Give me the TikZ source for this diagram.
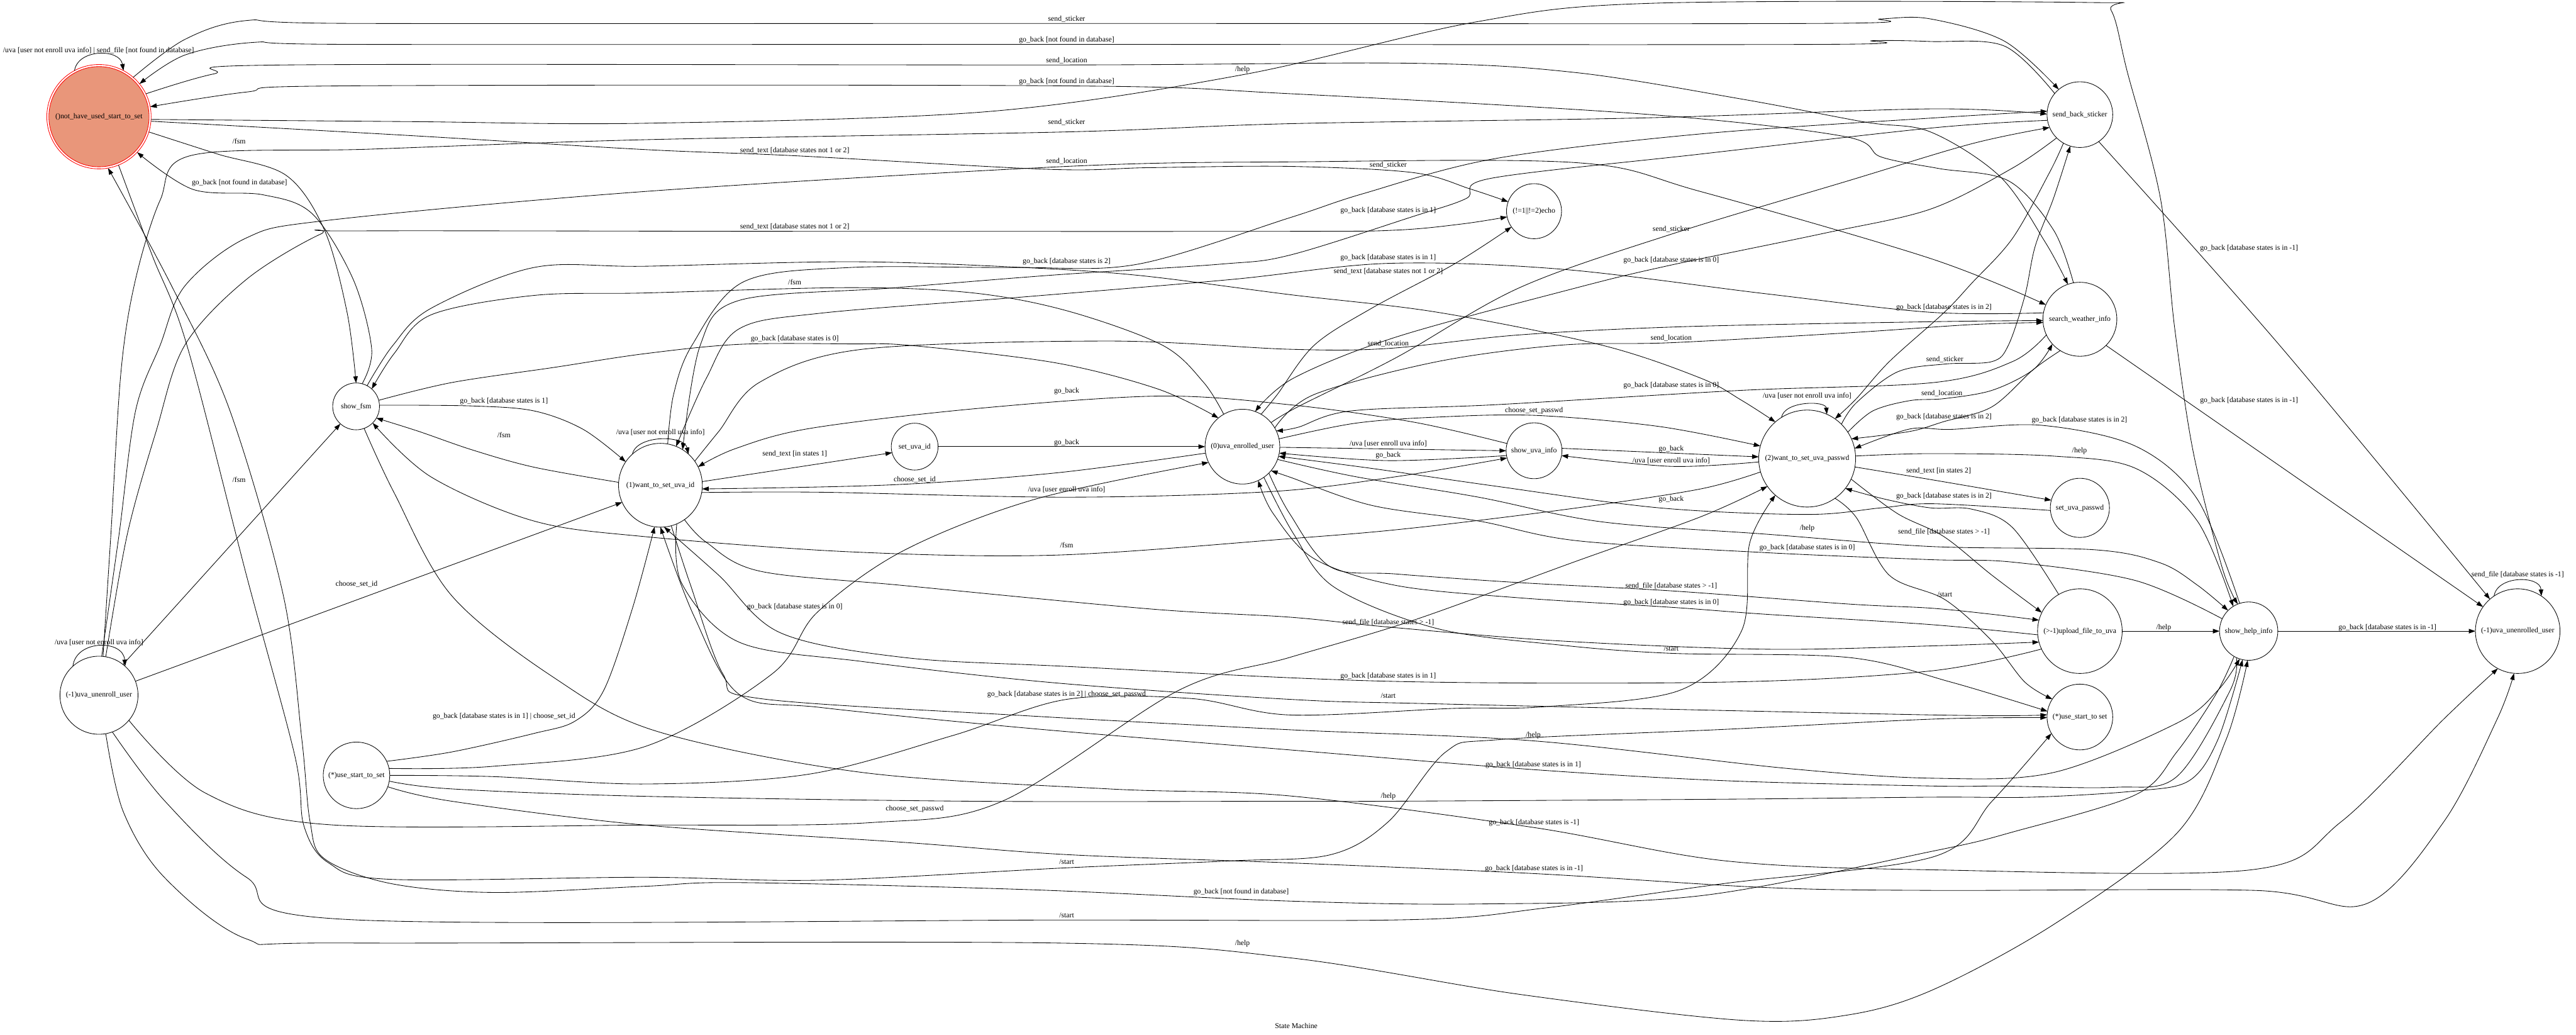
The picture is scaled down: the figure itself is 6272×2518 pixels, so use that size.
\documentclass[tikz,border=0pt]{standalone}
\usepackage{fontspec}
\setmainfont{Liberation Serif}
\usetikzlibrary{arrows.meta}
\definecolor{salmonc}{HTML}{E9967A}
\newcommand\lbl{\fontsize{18}{20}\selectfont}
\newcommand\edgeplot[2][]{\draw[edge,#1] plot[smooth,tension=0.55] coordinates {#2};}
\begin{document}
\begin{tikzpicture}[x=1pt,y=-1pt,
 st/.style={circle,draw,line width=1.3pt,inner sep=0pt,outer sep=0pt,font=\lbl},
 edge/.style={line width=1.3pt,-{Triangle[length=16pt,width=11pt]}},
 lab/.style={inner sep=0pt,font=\lbl}]
\useasboundingbox (0,0) rectangle (6272,2518);
\fill[white] (0,0) rectangle (6272,2518);
% nodes
\draw[red,fill=salmonc,line width=1.3pt] (241,284) circle[radius=122];
\node[st,draw=red,minimum size=254] (S) at (241,284) {()not\_have\_used\_start\_to\_set};
\node[st,minimum size=114] (F) at (867,989) {show\_fsm};
\node[st,minimum size=190] (U1) at (241,1692) {(-1)uva\_unenroll\_user};
\node[st,minimum size=162] (UL) at (868,1887) {(*)use\_start\_to\_set};
\node[st,minimum size=204] (W1) at (1608,1181) {(1)want\_to\_set\_uva\_id};
\node[st,minimum size=114] (SID) at (2227,1087) {set\_uva\_id};
\node[st,minimum size=182] (E0) at (3025,1087) {(0)uva\_enrolled\_user};
\node[st,minimum size=136] (SUI) at (3735,1097) {show\_uva\_info};
\node[st,minimum size=134] (ECHO) at (3735,514) {(!=1||!=2)echo};
\node[st,minimum size=236] (W2) at (4400,1116) {(2)want\_to\_set\_uva\_passwd};
\node[st,minimum size=160] (STK) at (5064,279) {send\_back\_sticker};
\node[st,minimum size=180] (WEA) at (5064,777) {search\_weather\_info};
\node[st,minimum size=144] (SPW) at (5064,1236) {set\_uva\_passwd};
\node[st,minimum size=206] (UPL) at (5064,1536) {(>-1)upload\_file\_to\_uva};
\node[st,minimum size=142] (HLP) at (5475,1536) {show\_help\_info};
\node[st,minimum size=206] (U2) at (6130,1536) {(-1)uva\_unenrolled\_user};
\node[st,minimum size=160] (UR) at (5064,1745) {(*)use\_start\_to set};
% self loops
\draw[edge] (S.118) .. controls (190,118) and (292,118) .. (S.62);
\draw[edge] (U1.132) .. controls (185,1556) and (300,1556) .. (U1.48);
\draw[edge] (W1.132) .. controls (1550,1058) and (1666,1058) .. (W1.48);
\draw[edge] (W2.122) .. controls (4345,975) and (4445,975) .. (W2.66);
\draw[edge] (U2.124) .. controls (6080,1400) and (6185,1400) .. (U2.56);
% from S
\edgeplot{(S.343) (530,375) (697,427) (790,560) (845,760) (F.90)}
\edgeplot{(F.75) (905,850) (860,680) (760,520) (640,474) (470,461) (S.317)}
\edgeplot{(S.49) (450,96) (600,50) (860,57) (2597,57) (4430,57) (4580,46) (4700,46) (4880,100) (STK.130)}
\edgeplot{(STK.140) (4880,112) (4700,101) (4560,99) (4430,108) (2597,108) (860,108) (620,103) (450,134) (S.39)}
\edgeplot{(S.26) (520,180) (700,158) (2597,158) (3440,154) (3840,177) (4240,241) (4540,297) (4700,321) (4870,430) (4980,590) (WEA.109)}
\edgeplot{(WEA.100) (5000,560) (4890,440) (4720,410) (4580,382) (4490,332) (4020,279) (3140,228) (2597,209) (840,209) (600,224) (S.11)}
\edgeplot{(S.357) (1000,296) (1570,300) (2400,272) (3025,182) (3590,54) (4020,8) (5080,6) (5140,25) (5180,177) (5260,482) (5295,800) (5340,1100) (5410,1380) (HLP.112)}
\edgeplot{(S.355) (1000,330) (1570,364) (1935,379) (2550,412) (2800,408) (3140,405) (3440,420) (3580,460) (ECHO.160)}
\edgeplot{(S.292) (370,620) (455,840) (600,1400) (718,1840) (740,2010) (800,2100) (950,2140) (1570,2135) (2000,2142) (2597,2112) (3000,2095) (3240,2080) (3380,2000) (3520,1830) (3650,1800) (4200,1775) (4708,1750) (UR.181)}
\edgeplot{(HLP.240) (5395,1690) (5300,1830) (5200,1934) (4900,2025) (4708,2071) (4140,2180) (3600,2200) (3140,2193) (2500,2165) (1800,2148) (1570,2157) (1200,2172) (950,2150) (790,2090) (755,2000) (735,1800) (690,1450) (560,1000) (420,700) (S.280)}
% from U1
\draw[edge] (U1.52) -- (F.228);
\draw[edge] (U1.21) -- (W1.204);
\edgeplot{(U1.84) (270,1300) (295,900) (330,680) (390,487) (467,378) (900,363) (1570,340) (2597,321) (3140,301) (4000,287) (4700,265) (STK.179)}
\edgeplot{(U1.86) (290,1300) (330,1000) (390,840) (450,696) (600,579) (800,536) (1570,466) (2597,405) (3140,394) (3840,396) (4140,466) (4700,629) (WEA.157)}
\edgeplot{(U1.80) (310,1300) (380,1050) (450,840) (600,680) (780,570) (860,562) (1935,563) (3140,563) (3400,560) (3560,545) (ECHO.192)}
\edgeplot{(U1.280) (300,1975) (400,2135) (600,2285) (850,2295) (2570,2295) (3140,2331) (3700,2420) (4240,2483) (4500,2470) (4708,2408) (5000,2250) (5300,2028) (5420,1800) (HLP.268)}
\edgeplot{(U1.290) (400,1948) (600,2135) (850,2238) (2597,2239) (3440,2238) (3760,2210) (4200,2150) (4708,2085) (4850,1950) (UR.210)}
\edgeplot{(U1.320) (500,1930) (800,2007) (1570,2008) (2120,2002) (2440,1950) (2870,1680) (3140,1600) (3440,1510) (3840,1365) (4140,1258) (W2.215)}
% from W1
\edgeplot{(W1.176) (1300,1137) (1150,1095) (1020,1050) (F.330)}
\edgeplot{(F.3) (1150,988) (1300,1000) (1420,1045) (W1.146)}
\draw[edge] (W1.5) -- (SID.195);
\draw[edge] (SID) -- (E0);
\edgeplot{(W1.350) (2000,1198) (2600,1210) (3100,1196) (3400,1160) (SUI.195)}
\edgeplot{(SUI.165) (3440,1027) (3140,985) (2820,964) (2370,995) (1970,1043) (1790,1092) (W1.26)}
\edgeplot{(E0.190) (2570,1151) (2170,1180) (W1.355)}
\edgeplot{(W1.80) (1640,960) (1685,840) (1810,686) (2070,651) (2470,651) (2770,643) (3140,530) (3320,471) (3640,386) (4140,326) (4708,287) (STK.174)}
\edgeplot{(W1.35) (1750,1050) (1850,930) (2100,850) (2700,830) (3140,850) (3380,848) (3700,815) (4100,795) (4700,783) (WEA.182)}
\edgeplot{(W1.285) (1680,1420) (1760,1640) (1850,1700) (2500,1742) (3140,1776) (3733,1803) (4350,1870) (4708,1894) (5000,1880) (5300,1760) (5400,1680) (HLP.252)}
\edgeplot{(W1.293) (1660,1420) (1800,1563) (2100,1610) (2570,1662) (3140,1702) (3500,1713) (4708,1740) (UR.176)}
\edgeplot{(W1.305) (1720,1320) (1850,1390) (2200,1425) (2800,1482) (3140,1502) (3380,1526) (3800,1560) (4300,1580) (4700,1572) (UPL.195)}
% from E0
\edgeplot{(E0.120) (2930,930) (2830,840) (2600,757) (2370,713) (2070,700) (1570,713) (1300,719) (1050,766) (960,860) (F.48)}
\edgeplot{(E0.60) (3110,960) (3200,840) (3340,750) (3540,643) (ECHO.215)}
\edgeplot{(E0.12) (3300,1030) (3500,1015) (3740,1011) (4040,1038) (W2.165)}
\draw[edge] (E0.359) -- (SUI.180);
\edgeplot{(SUI.190) (3380,1121) (E0.350)}
\draw[edge] (SUI.5) -- (W2.178);
\edgeplot{(W2.184) (4069,1135) (SUI.350)}
\edgeplot{(E0.40) (3160,990) (3400,870) (3700,700) (4069,570) (4500,440) (4800,350) (STK.203)}
\edgeplot{(E0.30) (3200,960) (3500,880) (3800,840) (4069,834) (4500,810) (4800,790) (WEA.185)}
\edgeplot{(E0.340) (3300,1160) (3600,1210) (3900,1270) (4300,1300) (4700,1330) (5100,1338) (5260,1370) (5350,1424) (HLP.135)}
\edgeplot{(HLP.155) (5200,1413) (4900,1368) (4700,1362) (4300,1345) (3840,1316) (3600,1268) (3340,1230) (3140,1161) (E0.320)}
\edgeplot{(E0.305) (3150,1300) (3250,1430) (3500,1530) (3800,1570) (4069,1590) (4500,1600) (4750,1660) (UR.170)}
\edgeplot{(E0.315) (3140,1250) (3240,1380) (3400,1397) (3700,1418) (4069,1438) (4500,1470) (4700,1480) (4850,1495) (UPL.165)}
\edgeplot{(UPL.185) (4700,1520) (4300,1495) (4069,1478) (3700,1455) (3400,1425) (3200,1360) (3100,1250) (E0.295)}
% from W2
\edgeplot{(W2.196) (4140,1190) (3840,1236) (3440,1285) (3140,1311) (2570,1351) (2070,1343) (1570,1306) (1300,1268) (1050,1161) (F.315)}
\edgeplot{(W2.350) (4700,1167) (SPW.165)}
\edgeplot{(SPW.185) (4708,1226) (4580,1236) (4400,1252) (4040,1236) (3640,1183) (3340,1140) (E0.345)}
\edgeplot{(W2.45) (4520,980) (4620,905) (4735,886) (4850,880) (4890,840) (4930,720) (4955,600) (5000,482) (STK.253)}
\edgeplot{(W2.33) (4560,1000) (4650,975) (4735,970) (4850,950) (4950,900) (WEA.222)}
\edgeplot{(W2.3) (4700,1104) (5000,1110) (5200,1140) (5350,1268) (HLP.122)}
\edgeplot{(HLP.108) (5350,1215) (5200,1086) (4970,1035) (4750,1045) (4650,1044) (W2.12)}
\edgeplot{(W2.305) (4520,1260) (4600,1400) (4735,1459) (4850,1560) (4930,1660) (UR.147)}
\edgeplot{(W2.335) (4620,1250) (4733,1306) (4850,1400) (UPL.154)}
\edgeplot{(UPL.120) (4900,1284) (4800,1239) (4700,1236) (4590,1215) (W2.322)}
\draw[edge] (UPL) -- (HLP);
\edgeplot{(UPL.205) (4700,1633) (4200,1660) (3380,1658) (2600,1622) (2200,1600) (1900,1540) (1750,1400) (W1.275)}
\edgeplot{(HLP.245) (5430,1680) (5300,1890) (5150,1916) (4870,1913) (4708,1913) (4200,1900) (3733,1873) (3140,1825) (2500,1772) (2000,1722) (1800,1690) (1690,1500) (W1.270)}
% from STK / WEA
\edgeplot{(STK.190) (4708,311) (4140,375) (3630,434) (3570,483) (3440,527) (3140,621) (2970,643) (2570,669) (2170,701) (1800,731) (1705,840) (W1.58)}
\edgeplot{(WEA.170) (4700,760) (4300,715) (3800,655) (3380,641) (3000,680) (2500,722) (2000,762) (1800,800) (1720,920) (W1.68)}
\edgeplot{(STK.225) (4900,409) (4700,509) (4440,568) (4069,645) (3840,700) (3400,820) (3150,920) (E0.70)}
\edgeplot{(WEA.205) (4900,880) (4708,931) (4240,950) (3640,985) (3290,1000) (3160,1040) (E0.25)}
\edgeplot{(STK.240) (4990,420) (4900,580) (4800,690) (4733,761) (4600,880) (4520,970) (W2.55)}
\edgeplot{(WEA.238) (4950,900) (4850,990) (4733,1026) (4650,1050) (W2.24)}
\edgeplot{(STK.305) (5550,840) (U2.131)}
\draw[edge] (WEA.315) -- (U2.145);
\draw[edge] (HLP) -- (U2);
% from F / UL
\edgeplot{(F.15) (1100,931) (1350,894) (1568,861) (1800,838) (2070,837) (2220,841) (2570,883) (2820,947) (E0.130)}
\edgeplot{(F.62) (957,840) (1050,750) (1300,651) (1570,648) (2070,637) (2470,650) (2770,670) (3140,717) (3500,760) (3900,840) (4140,920) (4240,974) (W2.131)}
\edgeplot{(F.290) (960,1200) (1100,1450) (1350,1650) (1600,1780) (2100,1880) (2700,1920) (3140,1937) (3735,2014) (4200,2095) (4708,2117) (5480,2117) (5700,2000) (5950,1750) (U2.242)}
\edgeplot{(UL.340) (1100,1950) (1570,2008) (2200,2050) (2600,2080) (3140,2100) (3735,2126) (4300,2160) (4708,2167) (5490,2167) (5760,2200) (5950,2000) (6080,1750) (U2.265)}
\edgeplot{(UL.25) (1100,1830) (1300,1785) (1400,1755) (1470,1680) (1540,1480) (W1.262)}
\edgeplot{(UL.12) (1200,1865) (1570,1817) (1880,1640) (1990,1490) (2200,1340) (2520,1215) (E0.205)}
\edgeplot{(UL.0) (1200,1890) (1570,1908) (1970,1884) (2320,1790) (2597,1702) (2900,1700) (3140,1740) (3540,1724) (3760,1720) (4090,1680) (4240,1536) (4260,1322) (W2.229)}
\edgeplot{(UL.350) (1100,1920) (1570,1938) (2370,1950) (3140,1950) (3380,1950) (4200,1945) (4708,1940) (4950,1940) (5200,1925) (5330,1900) (5400,1800) (HLP.258)}
% labels
\node[lab] (l01) at (240,123) {/uva [user not enroll uva info] | send\_file [not found in database]};
\node[lab] (l02) at (582,343) {/fsm};
\node[lab] (l03) at (583,445) {go\_back [not found in database]};
\node[lab] (l04) at (2597,46) {send\_sticker};
\node[lab] (l05) at (2597,97) {go\_back [not found in database]};
\node[lab] (l06) at (2597,147) {send\_location};
\node[lab] (l07) at (3025,170) {/help};
\node[lab] (l08) at (2597,198) {go\_back [not found in database]};
\node[lab] (l09) at (2597,298) {send\_sticker};
\node[lab] (l10) at (1935,367) {send\_text [database states not 1 or 2]};
\node[lab] (l11) at (2597,393) {send\_location};
\node[lab] (l12) at (1935,551) {send\_text [database states not 1 or 2]};
\node[lab] (l13) at (2597,637) {go\_back [database states is 2]};
\node[lab] (l14) at (1935,687) {/fsm};
\node[lab] (l15) at (1935,825) {go\_back [database states is 0]};
\node[lab] (l16) at (3380,402) {send\_sticker};
\node[lab] (l17) at (3380,513) {go\_back [database states is in 1]};
\node[lab] (l18) at (4069,558) {send\_sticker};
\node[lab] (l19) at (3380,628) {go\_back [database states is in 1]};
\node[lab] (l20) at (4069,633) {go\_back [database states is in 0]};
\node[lab] (l21) at (3380,660) {send\_text [database states not 1 or 2]};
\node[lab] (l22) at (4733,749) {go\_back [database states is in 2]};
\node[lab] (l23) at (3380,836) {send\_location};
\node[lab] (l24) at (4069,822) {send\_location};
\node[lab] (l25) at (5476,605) {go\_back [database states is in -1]};
\node[lab] (l26) at (1227,977) {go\_back [database states is 1]};
\node[lab] (l27) at (1227,1058) {/fsm};
\node[lab] (l28) at (1608,1052) {/uva [user not enroll uva info]};
\node[lab] (l29) at (582,1167) {/fsm};
\node[lab] (l30) at (868,1421) {choose\_set\_id};
\node[lab] (l31) at (241,1563) {/uva [user not enroll uva info]};
\node[lab] (l32) at (2597,952) {go\_back};
\node[lab] (l33) at (1935,1105) {send\_text [in states 1]};
\node[lab] (l34) at (2597,1077) {go\_back};
\node[lab] (l35) at (2227,1167) {choose\_set\_id};
\node[lab] (l36) at (2597,1191) {/uva [user enroll uva info]};
\node[lab] (l37) at (2597,1326) {/fsm};
\node[lab] (l38) at (1935,1477) {go\_back [database states is in 0]};
\node[lab] (l39) at (4069,938) {go\_back [database states is in 0]};
\node[lab] (l40) at (4400,964) {/uva [user not enroll uva info]};
\node[lab] (l41) at (3735,999) {choose\_set\_passwd};
\node[lab] (l42) at (3380,1080) {/uva [user enroll uva info]};
\node[lab] (l43) at (3380,1108) {go\_back};
\node[lab] (l44) at (4069,1093) {go\_back};
\node[lab] (l45) at (4069,1121) {/uva [user enroll uva info]};
\node[lab] (l46) at (4069,1215) {go\_back};
\node[lab] (l47) at (4400,1285) {/help};
\node[lab] (l48) at (4400,1333) {go\_back [database states is in 0]};
\node[lab] (l49) at (4069,1426) {send\_file [database states > -1]};
\node[lab] (l50) at (4069,1466) {go\_back [database states is in 0]};
\node[lab] (l51) at (3380,1514) {send\_file [database states > -1]};
\node[lab] (l52) at (4069,1578) {/start};
\node[lab] (l53) at (3380,1646) {go\_back [database states is in 1]};
\node[lab] (l54) at (4735,874) {send\_sticker};
\node[lab] (l55) at (4728,958) {send\_location};
\node[lab] (l56) at (4733,1014) {go\_back [database states is in 2]};
\node[lab] (l57) at (5063,1023) {go\_back [database states is in 2]};
\node[lab] (l58) at (5063,1098) {/help};
\node[lab] (l59) at (4720,1145) {send\_text [in states 2]};
\node[lab] (l60) at (4733,1207) {go\_back [database states is in 2]};
\node[lab] (l61) at (4733,1294) {send\_file [database states > -1]};
\node[lab] (l62) at (4735,1447) {/start};
\node[lab] (l63) at (5268,1527) {/help};
\node[lab] (l64) at (5813,1527) {go\_back [database states is in -1]};
\node[lab] (l65) at (6130,1399) {send\_file [database states is -1]};
\node[lab] (l66) at (5476,975) {go\_back [database states is in -1]};
\node[lab] (l67) at (1227,1743) {go\_back [database states is in 1] | choose\_set\_id};
\node[lab] (l68) at (2597,1690) {go\_back [database states is in 2] | choose\_set\_passwd};
\node[lab] (l69) at (2227,1969) {choose\_set\_passwd};
\node[lab] (l70) at (2597,2098) {/start};
\node[lab] (l71) at (3022,2171) {go\_back [not found in database]};
\node[lab] (l72) at (2597,2227) {/start};
\node[lab] (l73) at (3025,2296) {/help};
\node[lab] (l74) at (3380,1693) {/start};
\node[lab] (l75) at (3733,1790) {/help};
\node[lab] (l76) at (3733,1861) {go\_back [database states is in 1]};
\node[lab] (l77) at (3380,1938) {/help};
\node[lab] (l78) at (3735,2002) {go\_back [database states is -1]};
\node[lab] (l79) at (3735,2114) {go\_back [database states is in -1]};
\node[lab] (title) at (3156,2496) {State Machine};
\end{tikzpicture}
\end{document}
